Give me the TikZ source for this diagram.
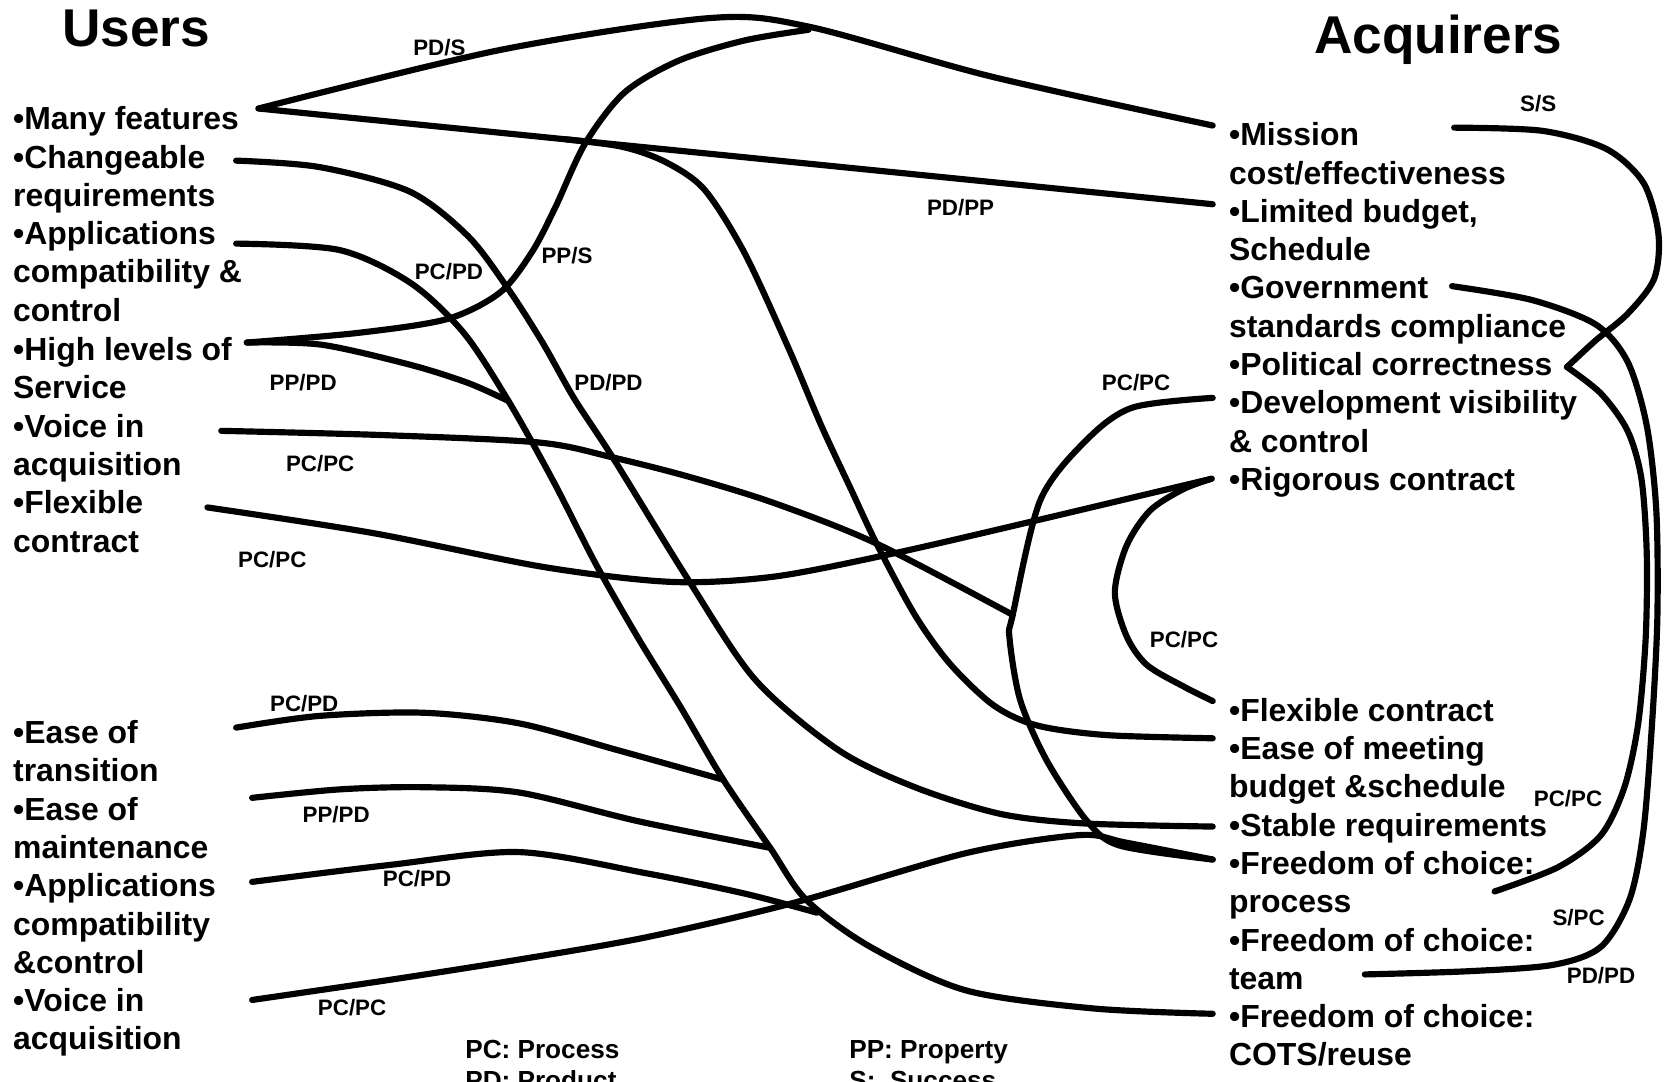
\documentclass[tikz,border=0pt]{standalone}
\usepackage{fontspec}
\setmainfont{Liberation Sans}
\tikzset{goal/.style={anchor=base west,inner sep=0pt,align=left,
   font=\bfseries\fontsize{15}{18}\selectfont},
 heading/.style={anchor=base,inner sep=0pt,font=\bfseries\fontsize{25}{30}\selectfont},
 lbl/.style={inner sep=0pt,font=\bfseries\fontsize{10.5}{12}\selectfont},
 keytext/.style={anchor=base west,inner sep=0pt,align=left,
   font=\bfseries\fontsize{12.3}{14.5}\selectfont},
 link/.style={line width=2.9pt,line cap=round,line join=round},
 }

\begin{document}
\begin{tikzpicture}[x=0.5pt,y=-0.5pt]
        \useasboundingbox (0,0) rectangle (1568,1017);
        \node[heading] (users) at (128,44) {Users};
        \node[heading] (acq) at (1352,50) {Acquirers};

        \node[goal] (many) at (12,122) {•Many features};
        \node[goal] (change) at (12,194) {•Changeable\\requirements};
        \node[goal] (appl) at (12,302) {•Applications\\compatibility \&\\control};
        \node[goal] (high) at (12,375) {•High levels of\\Service};
        \node[goal] (voice) at (12,447) {•Voice in\\acquisition};
        \node[goal] (flex) at (12,519) {•Flexible\\contract};
        \node[goal] (trans) at (12,735) {•Ease of\\transition};
        \node[goal] (maint) at (12,807) {•Ease of\\maintenance};
        \node[goal] (applb) at (12,915) {•Applications\\compatibility\\\&control};
        \node[goal] (voiceb) at (12,987) {•Voice in\\acquisition};

        \node[goal] (mission) at (1155,173) {•Mission\\cost/effectiveness};
        \node[goal] (budget) at (1155,245) {•Limited budget,\\Schedule};
        \node[goal] (gov) at (1155,317) {•Government\\standards compliance};
        \node[goal] (polit) at (1155,353) {•Political correctness};
        \node[goal] (devel) at (1155,425) {•Development visibility\\\& control};
        \node[goal] (rigor) at (1155,461) {•Rigorous contract};
        \node[goal] (flexa) at (1155,678) {•Flexible contract};
        \node[goal] (meet) at (1155,750) {•Ease of meeting\\budget \&schedule};
        \node[goal] (stable) at (1155,786) {•Stable requirements};
        \node[goal] (fproc) at (1155,858) {•Freedom of choice:\\process};
        \node[goal] (fteam) at (1155,930) {•Freedom of choice:\\team};
        \node[goal] (fcots) at (1155,1002) {•Freedom of choice:\\COTS/reuse};

        \coordinate (uMany) at (243,102);
        \coordinate (uChange) at (222,151);
        \coordinate (uAppl) at (222,229);
        \coordinate (uHigh) at (232,322);
        \coordinate (uVoice) at (208,405);
        \coordinate (uFlex) at (195,477);
        \coordinate (uTrans) at (222,684);
        \coordinate (uMaint) at (237,750);
        \coordinate (uApplb) at (237,829);
        \coordinate (uVoiceb) at (237,940);
        \coordinate (aMission) at (1140,118);
        \coordinate (aBudget) at (1140,192);
        \coordinate (aDevel) at (1140,374);
        \coordinate (aRigor) at (1139,450);
        \coordinate (aFlex) at (1140,659);
        \coordinate (aMeet) at (1140,694);
        \coordinate (aStable) at (1140,777);
        \coordinate (aProc) at (1140,808);
        \coordinate (aCots) at (1140,953);
        \coordinate (rMission) at (1367,120);
        \coordinate (rGov) at (1365,269);
        \coordinate (rPolit) at (1473,345);
        \coordinate (rProc) at (1405,838);
        \coordinate (rTeam) at (1283,916);
        \coordinate (pTop) at (760,28);
        \coordinate (pAppl) at (478,377);
        \coordinate (pArc) at (952,578);
        \coordinate (pTrans) at (680,733);
        \coordinate (pMaint) at (724,797);
        \coordinate (pApplb) at (768,858);

        \draw[link] plot[smooth] coordinates {(uMany) (470,47) (667,17) (760,25) (932,72) (aMission)};
        \draw[link] (uMany) -- coordinate[pos=0.323] (fork) (aBudget);
        \draw[link] plot[smooth] coordinates {(fork) (585,138) (625,152) (662,178) (700,238) (742,329) (772,400) (800,460) (824,511) (860,578) (893,624) (934,663) (975,682) (1040,691) (aMeet)};
        \draw[link] plot[smooth] coordinates {(uHigh) (336,313) (420,300) (470,275) (500,237) (522,195) (550,135) (587,87) (638,57) (700,38) (pTop)};
        \draw[link] plot[smooth] coordinates {(uHigh) (302,324) (386,343) (440,360) (pAppl)};
        \draw[link] plot[smooth] coordinates {(uChange) (300,157) (385,180) (440,222) (478,272) (510,322) (540,375) (576,430) (647,545) (710,639) (788,705) (860,740) (940,765) (1018,774) (aStable)};
        \draw[link] plot[smooth] coordinates {(uAppl) (319,235) (386,266) (436,313) (pAppl) (520,452) (560,530) (600,600) (640,665) (pTrans) (pMaint) (758,846) (818,890) (908,931) (1028,948) (aCots)};
        \draw[link] plot[smooth] coordinates {(uVoice) (360,409) (507,416) (576,430) (647,448) (728,473) (824,511) (pArc)};
        \draw[link] plot[smooth] coordinates {(uFlex) (350,501) (511,533) (631,547) (728,542) (841,520) (971,490) (aRigor)};
        \draw[link] plot[smooth] coordinates {(aDevel) (1065,383) (1022,413) (978,470) (pArc) (949,600) (959,658) (984,715) (1022,772) (1053,795) (aProc)};
        \draw[link] plot[smooth] coordinates {(aRigor) (1112,460) (1081,480) (1059,513) (1048,557) (1059,598) (1078,625) (1112,645) (aFlex)};
        \draw[link] plot[smooth] coordinates {(uTrans) (300,673) (398,670) (488,680) (580,705) (pTrans)};
        \draw[link] plot[smooth] coordinates {(uMaint) (320,742) (398,740) (488,745) (600,772) (pMaint)};
        \draw[link] plot[smooth] coordinates {(uApplb) (367,813) (488,801) (608,821) (700,840) (pApplb)};
        \draw[link] plot[smooth] coordinates {(uVoiceb) (367,921) (488,902) (608,881) (745,849) (908,802) (1015,785) (1058,792) (aProc)};
        \draw[link] plot[smooth] coordinates {(rMission) (1450,123) (1510,140) (1545,172) (1559,220) (1555,262) (1530,295) (1500,320) (rPolit)};
        \draw[link] plot[smooth] coordinates {(rGov) (1440,282) (1500,305) (1530,340) (1548,400) (1557,480) (1558,580) (1553,680) (1545,780) (1532,845) (1505,890) (1460,907) (1380,913) (rTeam)};
        \draw[link] plot[smooth] coordinates {(rPolit) (1505,370) (1530,405) (1543,450) (1548,520) (1547,600) (1540,680) (1527,740) (1505,785) (1465,815) (rProc)};

        \node[lbl] (ps) at (413,45) {PD/S};
        \node[lbl] (pdpp) at (903,195) {PD/PP};
        \node[lbl] (pps) at (533,240) {PP/S};
        \node[lbl] (pcpd1) at (422,255) {PC/PD};
        \node[lbl] (pppd1) at (285,360) {PP/PD};
        \node[lbl] (pdpd1) at (572,360) {PD/PD};
        \node[lbl] (pcpc1) at (1068,360) {PC/PC};
        \node[lbl] (pcpc2) at (301,436) {PC/PC};
        \node[lbl] (pcpc3) at (256,526) {PC/PC};
        \node[lbl] (pcpc4) at (1113,601) {PC/PC};
        \node[lbl] (pcpd2) at (286,661) {PC/PD};
        \node[lbl] (pppd2) at (316,766) {PP/PD};
        \node[lbl] (pcpd3) at (392,826) {PC/PD};
        \node[lbl] (pcpc5) at (331,947) {PC/PC};
        \node[lbl] (ss) at (1446,97) {S/S};
        \node[lbl] (pcpc6) at (1474,751) {PC/PC};
        \node[lbl] (spc) at (1484,863) {S/PC};
        \node[lbl] (pdpd2) at (1505,917) {PD/PD};

        \node[keytext] (keyl) at (437,1024) {PC: Process\\PD: Product};
        \node[keytext] (keyr) at (798,1024) {PP: Property\\S:\ \ Success};
    \end{tikzpicture}
\end{document}
